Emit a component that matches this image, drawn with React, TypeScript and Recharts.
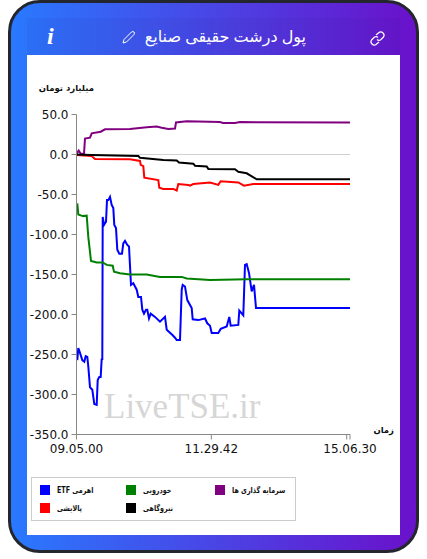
import React from "react";
import { LineChart, Line, XAxis, YAxis, ReferenceLine, Legend } from "recharts";

// Pairs are [time position on the session axis, value in billion toman]
const etfPoints: [number, number][] = [[0.8,-257],[1.8,-242],[3.5,-248],[5.8,-257],[7.8,-259],[9.2,-252],[10.8,-253],[11.8,-265],[13.5,-291],[15.8,-294],[16.8,-303],[17.8,-312],[20.2,-313],[21.2,-282],[22.8,-278],[24.2,-278],[25.2,-255],[25.8,-257],[26.2,-78],[27.5,-88],[29.5,-84],[30.5,-57],[31.8,-57],[33.5,-53],[35.2,-63],[36.8,-67],[37.8,-88],[39.5,-92],[40.8,-119],[42.8,-124],[45.5,-124],[46.8,-111],[48.5,-108],[50.8,-113],[52.5,-115],[54.5,-163],[56.8,-161],[60.2,-169],[61.8,-178],[64.5,-178],[65.8,-194],[67.5,-199],[69.5,-194],[70.8,-194],[72.5,-205],[74.2,-199],[78.5,-203],[83.5,-209],[88.5,-203],[90.2,-219],[96.2,-226],[98.5,-229],[100.2,-232],[103.5,-232],[105.2,-169],[106.2,-163],[108.5,-165],[110.8,-182],[115.2,-192],[116.2,-206],[121.8,-207],[128.5,-205],[130.8,-211],[133.5,-214],[135.2,-223],[141.8,-223],[144.2,-218],[150.2,-215],[152.8,-203],[154.2,-214],[161.8,-213],[162.8,-195],[166.8,-201],[168.5,-138],[170.2,-137],[172.5,-148],[175.2,-171],[177.5,-163],[179.5,-192],[273.5,-192]];
const autoPoints: [number, number][] = [[0.8,-61],[1.8,-75],[6.2,-77],[10.2,-76.5],[11.8,-103],[14.5,-133],[20.2,-135],[26.2,-135],[30.2,-138],[36.2,-139],[37.5,-146.5],[43.5,-148.5],[53.5,-150],[70.2,-150],[83.5,-153],[105.2,-153],[110.2,-155],[133.5,-157],[170.2,-156],[273.5,-156]];
const investPoints: [number, number][] = [[0.2,1.5],[2.2,5],[4.2,1],[7.5,1],[8.5,20],[13.5,21],[15.2,26.5],[24.2,28.5],[28.5,31.5],[53.5,32],[70.2,34],[80.2,35],[85.2,33.5],[91.8,32],[98.5,32.5],[99.5,40],[110.2,41.5],[143.5,40.5],[146.5,39.5],[158.5,39.5],[163.5,40.5],[273.5,40]];
const powerPoints: [number, number][] = [[0,0],[15.2,-0.5],[61.8,-2],[63.5,-4],[86.8,-7],[100.2,-7.5],[102.5,-10],[116.8,-11.5],[118.5,-14],[130.2,-15],[131.8,-18],[158.5,-18.5],[161.8,-21.5],[170.2,-23.5],[180.2,-31],[273.5,-31]];
const refinePoints: [number, number][] = [[0.2,-0.5],[15.2,-2],[18.5,-5.6],[53.5,-6],[63.5,-8],[64.2,-13],[66.8,-14.5],[67.8,-29],[81.8,-32],[82.8,-41.5],[86.8,-43],[96.8,-43],[100.2,-45],[101.8,-37],[111.8,-38],[113.5,-39],[116.8,-37],[133.5,-35],[141.8,-38],[144.2,-33.5],[161.8,-35],[167.5,-39],[176.8,-37],[273.5,-37]];

const yTicks = [50, 0, -50, -100, -150, -200, -250, -300, -350];
const xTicks = [0, 134.8, 270.2, 273.5];
const xTickLabels = ["09.05.00", "11.29.42", "", "15.06.30"];
const title = "پول درشت حقیقی صنایع";
const yTitle = "میلیارد تومان";
const xTitle = "زمان";
const watermark = "LiveTSE.ir";

const toRows = (pts: [number, number][]) => pts.map(([t, v]) => ({ t, v }));
const seriesList = [
  { name: "اهرمی ETF", color: "#0000ff", points: etfPoints, col: 0, row: 0 },
  { name: "خودرویی", color: "#008000", points: autoPoints, col: 1, row: 0 },
  { name: "سرمایه گذاری ها", color: "#800080", points: investPoints, col: 2, row: 0 },
  { name: "پالایشی", color: "#ff0000", points: refinePoints, col: 0, row: 1 },
  { name: "نیروگاهی", color: "#000000", points: powerPoints, col: 1, row: 1 },
];

const font = "'DejaVu Sans', sans-serif";
const legendX = [8, 94, 183];
const legendTextX = [25, 111, 200];
const legendY = [7, 25];

function ChartLegend() {
  return (
    <div style={{ position: "relative", width: 265, height: 44, boxSizing: "border-box", border: "1px solid #ccc", background: "#fff", fontFamily: font, fontSize: 8, fontWeight: 700, color: "#111" }}>
      {seriesList.map((s) => (
        <React.Fragment key={s.name}>
          <div style={{ position: "absolute", left: legendX[s.col], top: legendY[s.row], width: 10, height: 10, background: s.color }} />
          <div dir="rtl" style={{ position: "absolute", left: legendTextX[s.col], top: legendY[s.row], lineHeight: "12px", whiteSpace: "nowrap", transform: "scaleX(0.8)", transformOrigin: "left center" }}>{s.name}</div>
        </React.Fragment>
      ))}
    </div>
  );
}

export default function App() {
  return (
    <div style={{ position: "absolute", left: 0, top: 0, width: 427, height: 559, background: "#fff", overflow: "hidden" }}>
      <div style={{ position: "absolute", left: 8, top: 0, width: 411, height: 553, boxSizing: "border-box", border: "3px solid #24262e", borderRadius: 32, background: "linear-gradient(90deg, #2979ff 0%, #6a11cb 100%)" }} />
      <div style={{ position: "absolute", left: 27, top: 18, width: 373, height: 37, background: "rgba(40,20,120,0.06)" }} />
      <div style={{ position: "absolute", left: 27, top: 55, width: 373, height: 480, background: "#fff" }} />
      <div dir="rtl" style={{ position: "absolute", left: 146, top: 24, width: 160, textAlign: "center", fontFamily: "'Open Sans', 'DejaVu Sans', sans-serif", fontSize: 16, lineHeight: "24px", color: "#fff", whiteSpace: "nowrap" }}>{title}</div>
      <div style={{ position: "absolute", left: 47, top: 22, fontFamily: "'Liberation Serif', serif", fontStyle: "italic", fontWeight: 700, fontSize: 24, lineHeight: "28px", color: "#fff" }}>i</div>
      <svg style={{ position: "absolute", left: 121, top: 30 }} width="15" height="15" viewBox="0 0 15 15" fill="none" stroke="#fff" strokeWidth="1">
        <path d="M2 13 L3 9.5 L10.5 2 Q12 1 13 2 Q14 3 13 4.5 L5.5 12 Z" />
      </svg>
      <svg style={{ position: "absolute", left: 369, top: 30 }} width="17" height="17" viewBox="0 0 17 17" fill="none" stroke="#fff" strokeWidth="1.2">
        <path d="M7 5 L10 2.5 Q12 1 14 3 Q16 5 14.5 7 L11.5 10 Q9.5 11 8 9.5" />
        <path d="M10 12 L7 14.5 Q5 16 3 14 Q1 12 2.5 10 L5.5 7 Q7.5 6 9 7.5" />
      </svg>
      <div dir="rtl" style={{ position: "absolute", left: 30, top: 81, width: 64, textAlign: "right", fontFamily: font, fontSize: 8.5, fontWeight: 700, lineHeight: "14px", color: "#111", whiteSpace: "nowrap" }}>{yTitle}</div>
      <div dir="rtl" style={{ position: "absolute", left: 366, top: 423, width: 28, textAlign: "right", fontFamily: font, fontSize: 8.5, fontWeight: 700, lineHeight: "14px", color: "#111" }}>{xTitle}</div>
      <div style={{ position: "absolute", left: 104, top: 385, fontFamily: "'Liberation Serif', serif", fontSize: 35, lineHeight: "44px", color: "#d6d6d6", whiteSpace: "nowrap" }}>{watermark}</div>
      <div style={{ position: "absolute", left: 0, top: 0 }}>
        <LineChart width={427} height={559} margin={{ top: 114.5, right: 77, bottom: 94.5, left: 16.5 }} style={{ background: "transparent" }}>
          <XAxis
            type="number"
            dataKey="t"
            domain={[0, 273.5]}
            ticks={xTicks}
            interval={0}
            allowDuplicatedCategory={false}
            height={30}
            tickSize={5}
            tickMargin={5}
            stroke="#888"
            tick={{ fill: "#111", fontSize: 12, fontFamily: font }}
            tickFormatter={(v: number) => xTickLabels[xTicks.indexOf(v)] ?? ""}
          />
          <YAxis
            type="number"
            domain={[-350, 50]}
            ticks={yTicks}
            interval={0}
            width={60}
            tickSize={5}
            tickMargin={3}
            stroke="#888"
            tick={{ fill: "#111", fontSize: 12, fontFamily: font }}
            tickFormatter={(v: number) => v.toFixed(1)}
          />
          <ReferenceLine y={0} stroke="#d0d0d0" strokeWidth={1} />
          {seriesList.map((s) => (
            <Line
              key={s.name}
              name={s.name}
              data={toRows(s.points)}
              dataKey="v"
              type="linear"
              stroke={s.color}
              strokeWidth={2}
              dot={false}
              activeDot={false}
              isAnimationActive={false}
            />
          ))}
          <Legend
            layout="horizontal"
            verticalAlign="middle"
            align="center"
            content={<ChartLegend />}
            wrapperStyle={{ position: "absolute", left: 31, top: 477, width: 265, height: 44 }}
          />
        </LineChart>
      </div>
    </div>
  );
}
